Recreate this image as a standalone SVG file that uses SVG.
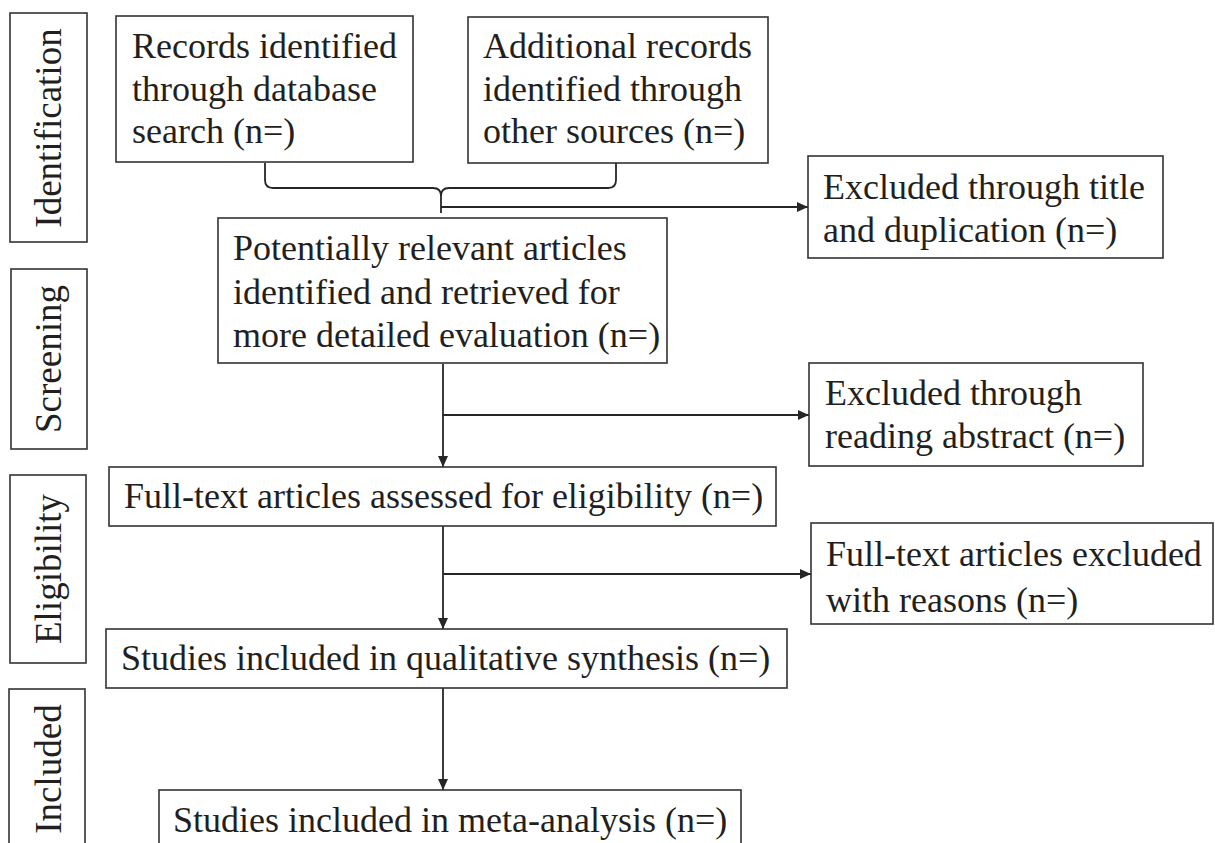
<svg xmlns="http://www.w3.org/2000/svg" width="1215" height="843" viewBox="0 0 1215 843">
<defs>
<marker id="arr" markerUnits="userSpaceOnUse" markerWidth="12" markerHeight="10" refX="11" refY="5" orient="auto">
<path d="M0,0 L11,5 L0,10 Z" fill="#262626"/>
</marker>
<style>
.box{fill:#fff;stroke:#333;stroke-width:1.6}
.t{font-family:"Liberation Serif","Times New Roman",serif;font-size:36px;fill:#231f20}
.side{font-family:"Liberation Serif","Times New Roman",serif;font-size:37px;fill:#231f20;text-anchor:middle}
.c{fill:none;stroke:#262626;stroke-width:1.8}
</style>
</defs>
<rect width="1215" height="843" fill="#fff"/>
<g id="label-identification"><rect class="box" x="10" y="13" width="77" height="229"/><text class="side" transform="translate(61,128) rotate(-90)">Identification</text></g>
<g id="label-screening"><rect class="box" x="11" y="269" width="76" height="180"/><text class="side" transform="translate(61,359) rotate(-90)">Screening</text></g>
<g id="label-eligibility"><rect class="box" x="10" y="475" width="76" height="188"/><text class="side" transform="translate(61,569) rotate(-90)">Eligibility</text></g>
<g id="label-included"><rect class="box" x="9" y="689" width="76" height="165"/><text class="side" transform="translate(61,769) rotate(-90)">Included</text></g>
<g id="connectors">
<path class="c" d="M265,163 L265,180 Q265,188 273,188 L433,188 Q441,188 441,196 L441,213 M441,196 Q441,188 449,188 L608,188 Q616,188 616,180 L616,163"/>
<path class="c" d="M441,207 L808,207" marker-end="url(#arr)"/>
<path class="c" d="M443,364 L443,467" marker-end="url(#arr)"/>
<path class="c" d="M443,415 L809,415" marker-end="url(#arr)"/>
<path class="c" d="M443,526 L443,629" marker-end="url(#arr)"/>
<path class="c" d="M443,574 L811,574" marker-end="url(#arr)"/>
<path class="c" d="M443,688 L443,790" marker-end="url(#arr)"/>
</g>
<g id="records-db"><rect class="box" x="116" y="16" width="297" height="146"/><text class="t" x="132" y="58">Records identified</text><text class="t" x="132" y="101">through database</text><text class="t" x="132" y="143">search (n=)</text></g>
<g id="records-other"><rect class="box" x="468" y="17" width="300" height="146"/><text class="t" x="483" y="58">Additional records</text><text class="t" x="483" y="101">identified through</text><text class="t" x="483" y="143">other sources (n=)</text></g>
<g id="excluded-title"><rect class="box" x="808" y="156" width="355" height="102"/><text class="t" x="823" y="199">Excluded through title</text><text class="t" x="823" y="242">and duplication (n=)</text></g>
<g id="potentially-relevant"><rect class="box" x="218" y="218" width="449" height="145"/><text class="t" x="233" y="260">Potentially relevant articles</text><text class="t" x="233" y="304">identified and retrieved for</text><text class="t" x="233" y="347">more detailed evaluation (n=)</text></g>
<g id="excluded-abstract"><rect class="box" x="809" y="363" width="334" height="103"/><text class="t" x="825" y="405">Excluded through</text><text class="t" x="825" y="448">reading abstract (n=)</text></g>
<g id="fulltext-assessed"><rect class="box" x="109" y="467" width="667" height="59"/><text class="t" x="124" y="508">Full-text articles assessed for eligibility (n=)</text></g>
<g id="fulltext-excluded"><rect class="box" x="811" y="523" width="402" height="101"/><text class="t" x="826" y="566">Full-text articles excluded</text><text class="t" x="826" y="612">with reasons (n=)</text></g>
<g id="qualitative"><rect class="box" x="106" y="629" width="681" height="59"/><text class="t" x="121" y="670">Studies included in qualitative synthesis (n=)</text></g>
<g id="meta-analysis"><rect class="box" x="159" y="790" width="582" height="70"/><text class="t" x="173" y="832">Studies included in meta-analysis (n=)</text></g>
</svg>
